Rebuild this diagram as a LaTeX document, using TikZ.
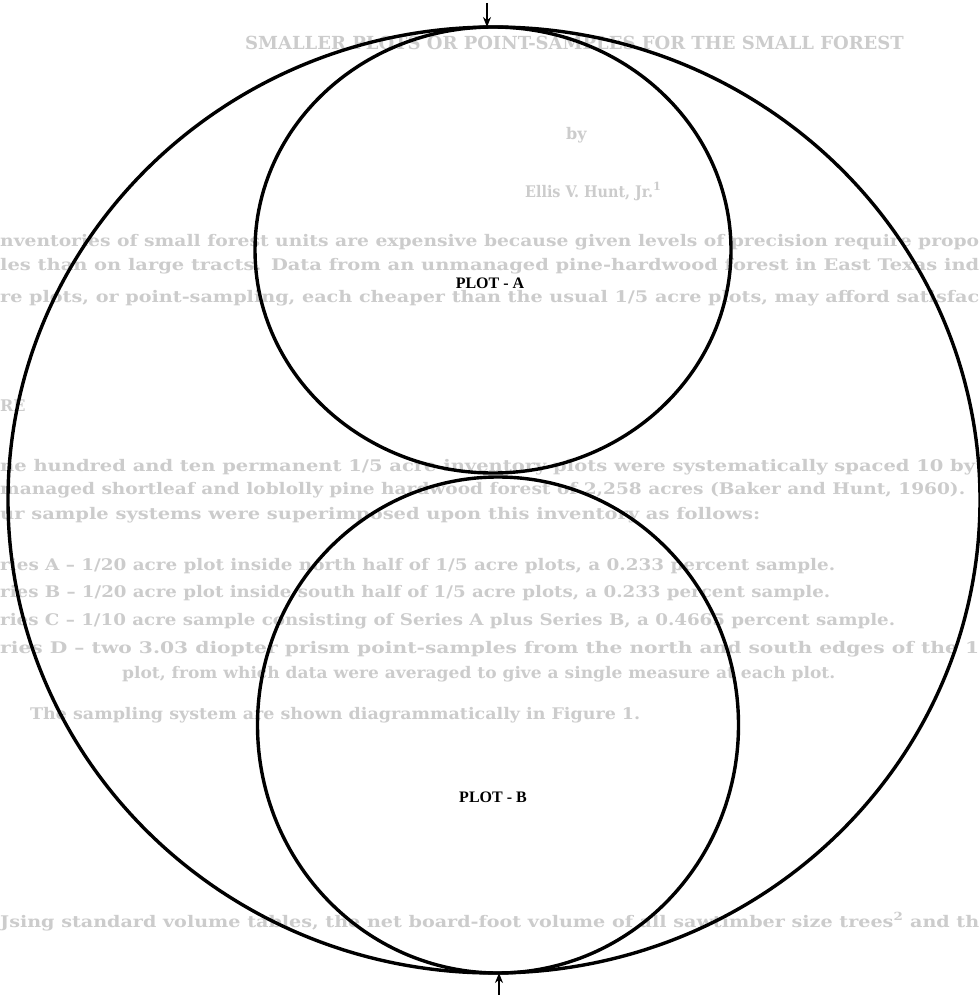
\documentclass[tikz,border=0pt]{standalone}
\usepackage{fontspec}
\usepackage{graphicx}
\setmainfont{Liberation Serif}
\newfontfamily\bleedfont{DejaVu Serif}
\newcommand\bfit[2]{\resizebox{#1}{\height}{#2}}
\usetikzlibrary{shapes.geometric,arrows.meta}
\begin{document}
\begin{tikzpicture}[x=1pt,y=-1pt,
  ring/.style={draw=black,line width=3.4pt,ellipse,inner sep=0pt,outer sep=0pt},
  plotlabel/.style={font=\fontsize{16}{19}\selectfont\bfseries,text=black,inner sep=0pt},
  bleed/.style={font={\bleedfont\fontsize{16}{19}\selectfont\bfseries},text=black!20,inner sep=0pt,anchor=base west},
  bleedtitle/.style={bleed,font={\bleedfont\fontsize{18}{21}\selectfont\bfseries}},
  tick/.style={line width=2pt,-{Stealth[length=10pt,width=8pt]}}]
\fill[white] (0,0) rectangle (979,995);
\useasboundingbox (0,0) rectangle (979,995);
\begin{scope}
\clip (0,0) rectangle (979,995);
\node[bleedtitle] (b1) at (245,50) {SMALLER PLOTS OR POINT-SAMPLES FOR THE SMALL FOREST};
\node[bleed] (b2) at (566,140) {by};
\node[bleed] (b3) at (525,197) {\bfit{128pt}{Ellis V. Hunt, Jr.}\textsuperscript{1}};
\node[bleed] (b4) at (0,246) {\bfit{979pt}{nventories of small forest units are expensive because given levels of precision require propo}};
\node[bleed] (b5) at (0,270) {\bfit{979pt}{les than on large tracts.\enspace Data from an unmanaged pine-hardwood forest in East Texas ind}};
\node[bleed] (b6) at (0,302) {\bfit{979pt}{re plots, or point-sampling, each cheaper than the usual 1/5 acre plots, may afford satisfac}};
\node[bleed] (b7) at (0,411) {RE};
\node[bleed] (b8) at (0,471) {\bfit{975pt}{ne hundred and ten permanent 1/5 acre inventory plots were systematically spaced 10 by}};
\node[bleed] (b9) at (0,494) {\bfit{965pt}{managed shortleaf and loblolly pine hardwood forest of 2,258 acres (Baker and Hunt, 1960).}};
\node[bleed] (b10) at (0,519) {\bfit{760pt}{ur sample systems were superimposed upon this inventory as follows:}};
\node[bleed] (b11) at (0,570) {\bfit{835pt}{ries A – 1/20 acre plot inside north half of 1/5 acre plots, a 0.233 percent sample.}};
\node[bleed] (b12) at (0,597) {\bfit{830pt}{ries B – 1/20 acre plot inside south half of 1/5 acre plots, a 0.233 percent sample.}};
\node[bleed] (b13) at (0,625) {\bfit{895pt}{ries C – 1/10 acre sample consisting of Series A plus Series B, a 0.4665 percent sample.}};
\node[bleed] (b14) at (0,653) {\bfit{979pt}{ries D – two 3.03 diopter prism point-samples from the north and south edges of the 1}};
\node[bleed] (b15) at (122,678) {\bfit{713pt}{plot, from which data were averaged to give a single measure at each plot.}};
\node[bleed] (b16) at (30,719) {\bfit{610pt}{The sampling system are shown diagrammatically in Figure 1.}};
\node[bleed] (b17) at (0,927) {\bfit{979pt}{Jsing standard volume tables, the net board-foot volume of all sawtimber size trees\textsuperscript{2} and th}};
\end{scope}
\node[ring,minimum width=972pt,minimum height=946pt] (outer) at (494,500) {};
\node[ring,minimum width=476pt,minimum height=446pt] (plotA) at (493,250) {};
\node[ring,minimum width=481pt,minimum height=496pt] (plotB) at (498,725) {};
\node[plotlabel] (labA) at (490,283) {PLOT - A};
\node[plotlabel] (labB) at (493,797) {PLOT - B};
\coordinate (topstart) at (487,3);
\coordinate (botstart) at (499,995);
\draw[tick] (topstart) -- (topstart |- outer.north);
\draw[tick] (botstart) -- (botstart |- outer.south);
\end{tikzpicture}
\end{document}
